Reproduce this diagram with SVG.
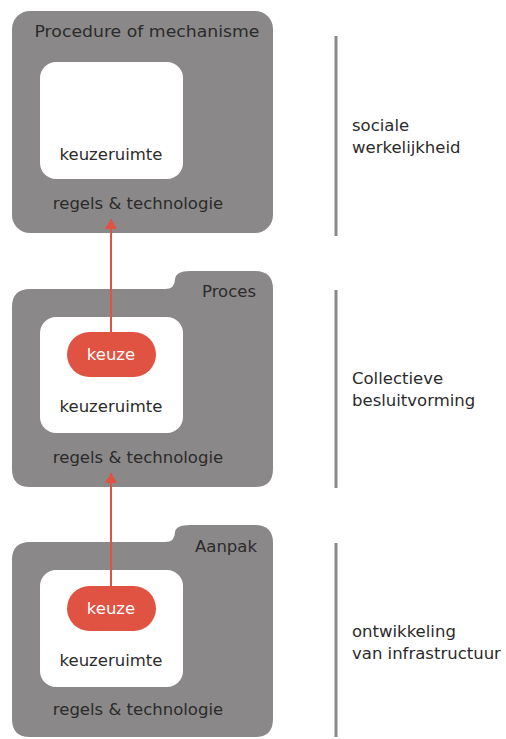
<svg xmlns="http://www.w3.org/2000/svg" width="506" height="739" viewBox="0 0 506 739">
<defs>
<style>
.box{fill:#8a8888}
.inner{fill:#ffffff}
.pill{fill:#e05241}
.t{font-family:"DejaVu Sans","Liberation Sans",sans-serif;font-size:16.5px;fill:#2b2b2b}
.w{fill:#ffffff}
.side{stroke:#8a8888;stroke-width:3;fill:none}
.conn{stroke:#e05241;stroke-width:2;fill:none}
</style>
<marker id="ah" viewBox="0 0 10 12" refX="10" refY="6" markerWidth="10" markerHeight="12" markerUnits="userSpaceOnUse" orient="auto">
<path d="M0,0 L10,6 L0,12 Z" fill="#e05241"/>
</marker>
</defs>
<rect width="506" height="739" fill="#ffffff"/>

<g id="procedure">
<rect class="box" x="12" y="11" width="261" height="222" rx="18"/>
<rect class="inner" x="40" y="62" width="143" height="117" rx="16"/>
<text class="t" x="147" y="37" text-anchor="middle" textLength="225" lengthAdjust="spacingAndGlyphs">Procedure of mechanisme</text>
<text class="t" x="111" y="160" text-anchor="middle">keuzeruimte</text>
<text class="t" x="138" y="209" text-anchor="middle">regels &amp; technologie</text>
</g>

<g id="proces">
<path class="box" d="M30,289 H165 Q175,289 175,279 Q176,271 190,271 H255 Q273,271 273,289 V469 Q273,487 255,487 H30 Q12,487 12,469 V307 Q12,289 30,289 Z"/>
<rect class="inner" x="40" y="317" width="143" height="116" rx="16"/>
<rect class="pill" x="67" y="332" width="89" height="45" rx="22.5"/>
<text class="t" x="256" y="297" text-anchor="end">Proces</text>
<text class="t w" x="111" y="360" text-anchor="middle">keuze</text>
<text class="t" x="111" y="412" text-anchor="middle">keuzeruimte</text>
<text class="t" x="138" y="463" text-anchor="middle">regels &amp; technologie</text>
</g>

<g id="aanpak">
<path class="box" d="M30,542 H165 Q175,542 175,532 Q176,525 190,525 H255 Q273,525 273,543 V719 Q273,737 255,737 H30 Q12,737 12,719 V560 Q12,542 30,542 Z"/>
<rect class="inner" x="40" y="570" width="143" height="117" rx="16"/>
<rect class="pill" x="67" y="586" width="89" height="45" rx="22.5"/>
<text class="t" x="257" y="552" text-anchor="end">Aanpak</text>
<text class="t w" x="111" y="614" text-anchor="middle">keuze</text>
<text class="t" x="111" y="666" text-anchor="middle">keuzeruimte</text>
<text class="t" x="138" y="715" text-anchor="middle">regels &amp; technologie</text>
</g>

<g id="connectors">
<line class="conn" x1="111" y1="332" x2="111" y2="219" marker-end="url(#ah)"/>
<line class="conn" x1="111" y1="586" x2="111" y2="473" marker-end="url(#ah)"/>
</g>

<g id="sociale">
<line class="side" x1="336" y1="36" x2="336" y2="236"/>
<text class="t" x="352" y="131">sociale</text>
<text class="t" x="352" y="153">werkelijkheid</text>
</g>
<g id="collectieve">
<line class="side" x1="336" y1="290" x2="336" y2="488"/>
<text class="t" x="352" y="384">Collectieve</text>
<text class="t" x="352" y="406">besluitvorming</text>
</g>
<g id="ontwikkeling">
<line class="side" x1="336" y1="543" x2="336" y2="737"/>
<text class="t" x="352" y="637">ontwikkeling</text>
<text class="t" x="352" y="659">van infrastructuur</text>
</g>
</svg>
